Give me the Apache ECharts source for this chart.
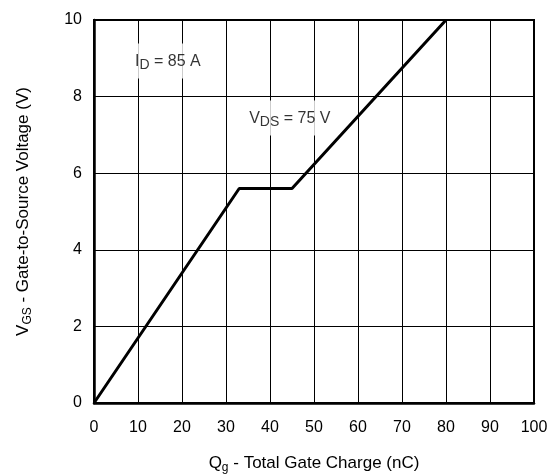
<!DOCTYPE html>
<html>
<head>
<meta charset="utf-8">
<script src="https://cdn.jsdelivr.net/npm/echarts@6/dist/echarts.min.js"></script>
<style>
  html, body { margin: 0; padding: 0; background: #fff; }
  #chart { width: 552px; height: 476px; }
</style>
</head>
<body>
<div id="chart"></div>
<script>
// Gate charge curve (nC, V)
const qg = [0, 33, 45, 80];
const vgs = [0, 5.6, 5.6, 10];

// annotation positions in data units
const notes = [
  { x: 16.8, y: 8.93, text: '{n|I}{sub|D}{n| = 85 A}' },
  { x: 44.5, y: 7.44, text: '{n|V}{sub|DS}{n| = 75 V}' }
];

const FONT = '"Liberation Sans", Arial, sans-serif';

const titleRich = {
  n: { fontSize: 17, color: '#000', fontFamily: FONT },
  sub: { fontSize: 12, color: '#000', fontFamily: FONT, padding: [9, 0, 0, 0] }
};

const chart = echarts.init(document.getElementById('chart'));
chart.setOption({
  animation: false,
  textStyle: { fontFamily: FONT },
  grid: {
    left: 94, right: 18, top: 20, bottom: 73,
    outerBoundsMode: 'none', containLabel: false,
    show: true, borderColor: '#000', borderWidth: 2
  },
  xAxis: {
    type: 'value', min: 0, max: 100, interval: 10,
    axisLine: { lineStyle: { color: '#000', width: 2.5 } },
    axisTick: { show: false },
    splitLine: { lineStyle: { color: '#000', width: 1 } },
    axisLabel: { color: '#000', fontSize: 16, margin: 17, fontFamily: FONT },
    name: '{n|Q}{sub|g}{n| - Total Gate Charge (nC)}',
    nameLocation: 'middle', nameGap: 50,
    nameTextStyle: { rich: titleRich }
  },
  yAxis: {
    type: 'value', min: 0, max: 10, interval: 2,
    axisLine: { lineStyle: { color: '#000', width: 2.5 } },
    axisTick: { show: false },
    splitLine: { lineStyle: { color: '#000', width: 1 } },
    axisLabel: { color: '#000', fontSize: 16, margin: 12, fontFamily: FONT },
    name: '{n|V}{sub|GS}{n| - Gate-to-Source Voltage (V)}',
    nameLocation: 'middle', nameGap: 60, nameRotate: 90,
    nameTextStyle: { rich: titleRich }
  },
  series: [
    {
      type: 'line',
      data: qg.map((q, i) => [q, vgs[i]]),
      symbol: 'none',
      lineStyle: { color: '#000', width: 3 },
      z: 5
    },
    {
      type: 'scatter',
      symbolSize: 0,
      z: 4,
      data: notes.map(n => ({ value: [n.x, n.y], labelText: n.text })),
      label: {
        show: true,
        position: 'inside',
        formatter: p => p.data.labelText,
        backgroundColor: '#fff',
        padding: [8, 10, 6, 10],
        rich: {
          n: { fontSize: 16, color: '#000', fontFamily: FONT },
          sub: { fontSize: 14, color: '#000', fontFamily: FONT, padding: [7, 0, 0, 0] }
        }
      }
    }
  ]
});
</script>
</body>
</html>
